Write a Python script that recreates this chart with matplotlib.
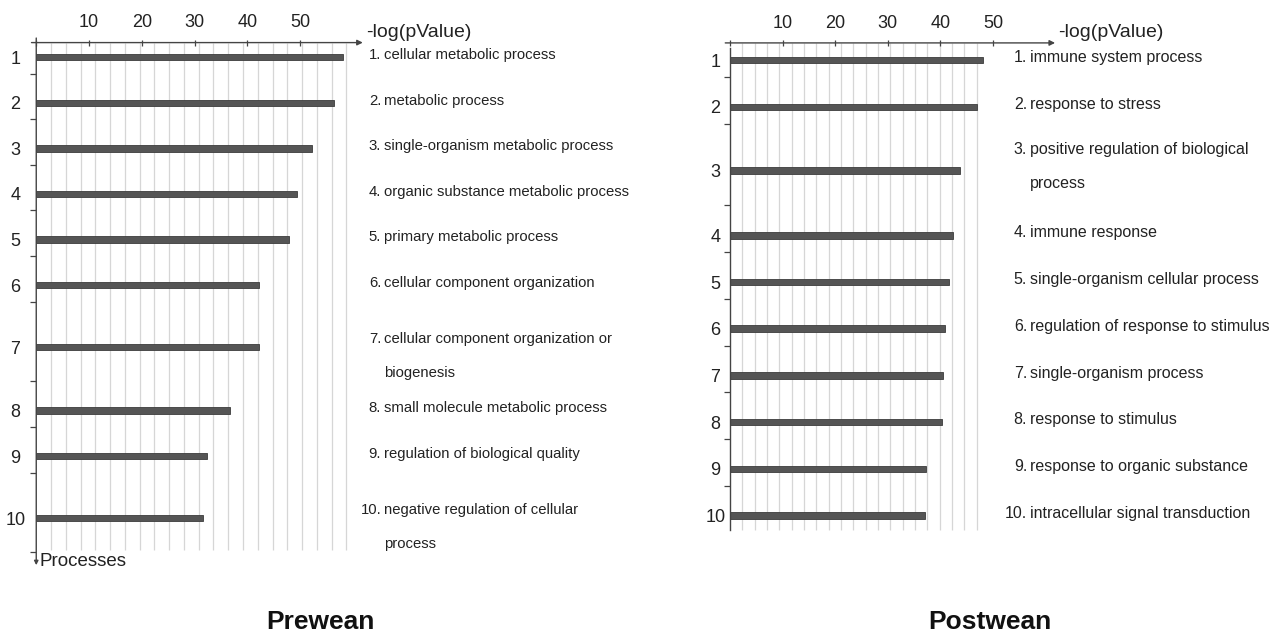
import numpy as np
import matplotlib
matplotlib.use('Agg')
import matplotlib.pyplot as plt

plt.rcParams['font.family'] = ['Liberation Sans', 'DejaVu Sans']

# GO terms and -log(pValue) for each weaning stage
pre_terms = [
    'cellular metabolic process',
    'metabolic process',
    'single-organism metabolic process',
    'organic substance metabolic process',
    'primary metabolic process',
    'cellular component organization',
    'cellular component organization or\nbiogenesis',
    'small molecule metabolic process',
    'regulation of biological quality',
    'negative regulation of cellular\nprocess',
]
pre_values = [58.1, 56.4, 52.2, 49.5, 48.0, 42.3, 42.3, 36.8, 32.3, 31.7]

post_terms = [
    'immune system process',
    'response to stress',
    'positive regulation of biological\nprocess',
    'immune response',
    'single-organism cellular process',
    'regulation of response to stimulus',
    'single-organism process',
    'response to stimulus',
    'response to organic substance',
    'intracellular signal transduction',
]
post_values = [48.1, 47.0, 43.7, 42.4, 41.6, 40.9, 40.5, 40.3, 37.3, 37.1]

tick_vals = [0, 10, 20, 30, 40, 50]
tick_text = ['', '10', '20', '30', '40', '50']

W, H = 1277, 636
TXT = '#222222'


def rows(terms):
    # one row per term, two-line terms get a taller row
    centers, bottoms = [], []
    top = 0.0
    for t in terms:
        wrapped = '\n' in t
        centers.append(top + (1.0 if wrapped else 0.64))
        top += 1.75 if wrapped else 1.0
        bottoms.append(top)
    return np.array(centers), np.array(bottoms), top


def panel(fig, terms, values, x0, ytop, px_unit, px_slot, xmax,
          axis_y, grid_step, n_grid, ypad, num_x, wrap_shift, lbl_size,
          last_tick, arrow_down, title, title_x):
    centers, bottoms, total = rows(terms)
    ybot = ytop + total * px_slot
    ax = fig.add_axes([x0 / W, 1 - ybot / H, xmax * px_unit / W,
                       (ybot - ytop) / H])
    ax.set_xlim(0, xmax)
    ax.set_ylim(total, 0)
    for s in ax.spines.values():
        s.set_visible(False)
    ax.patch.set_alpha(0)

    # vertical guide lines
    grid_x = np.arange(1, n_grid + 1) * grid_step
    ax.vlines(grid_x, axis_y, total - 0.05, color='#d6d6d6', lw=0.9, zorder=0)

    ax.barh(centers, values, height=0.14, color='#555555',
            edgecolor='#3c3c3c', lw=0.6, zorder=2)

    # x axis on top with arrow
    ax.spines['top'].set_position(('data', axis_y))
    ax.xaxis.set_ticks_position('top')
    ax.set_xticks(tick_vals, labels=tick_text)
    ax.tick_params(axis='x', direction='inout', length=4, width=0.9,
                   color='#444444', pad=6, labelsize=13, labelcolor=TXT)
    ax.annotate('', xy=(xmax, axis_y), xytext=(-0.9, axis_y),
                arrowprops=dict(arrowstyle='-|>', color='#444444', lw=1,
                                mutation_scale=8, shrinkA=0, shrinkB=0),
                annotation_clip=False)

    # y axis
    ax.set_yticks(centers, labels=[str(i + 1) for i in range(len(terms))])
    ax.set_yticks(bottoms if last_tick else bottoms[:-1], minor=True)
    ax.tick_params(axis='y', which='major', length=0, pad=ypad,
                   labelsize=13, labelcolor=TXT)
    ax.tick_params(axis='y', which='minor', direction='out', length=4,
                   width=0.9, color='#444444')
    for lbl in ax.get_yticklabels():
        lbl.set_horizontalalignment('center')
    if arrow_down:
        ax.annotate('', xy=(0, total + 0.28), xytext=(0, axis_y - 0.1),
                    arrowprops=dict(arrowstyle='-|>', color='#444444', lw=1,
                                    mutation_scale=6, shrinkA=0, shrinkB=0),
                    annotation_clip=False)
        ax.text(0.7, total + 0.2, 'Processes', ha='left', va='center',
                fontsize=13.5, color=TXT, clip_on=False)
    else:
        ax.plot([0, 0], [axis_y + 0.1, total - 0.05], color='#444444',
                lw=1, clip_on=False)

    ax.text(xmax + 0.6, axis_y - 0.22, '-log(pValue)', ha='left',
            va='center', fontsize=14, color=TXT, clip_on=False)

    # numbered term labels to the right of the plot
    step = 3.0 / px_unit
    for i, (t, c) in enumerate(zip(terms, centers)):
        lines = t.split('\n')
        y0 = c - 0.05
        if len(lines) > 1:
            y0 = c + wrap_shift
        ax.text(num_x, y0, f'{i + 1}.', ha='right', va='center',
                fontsize=lbl_size, color=TXT, clip_on=False)
        for j, line in enumerate(lines):
            ax.text(num_x + step, y0 + j * 0.74, line, ha='left',
                    va='center', fontsize=lbl_size, color=TXT,
                    clip_on=False)

    fig.text(title_x / W, 1 - 622 / H, title, ha='center', va='center',
             fontsize=19, fontweight='bold', color='#111111')
    return ax


fig = plt.figure(figsize=(W / 100, H / 100), dpi=100)

panel(fig, pre_terms, pre_values, x0=36.25, ytop=28, px_unit=5.275,
      px_slot=45.6, xmax=61.9, axis_y=0.32, grid_step=2.8, n_grid=21,
      ypad=15, num_x=65.4, wrap_shift=-0.17, lbl_size=10.7, last_tick=True,
      arrow_down=True, title='Prewean', title_x=320)

panel(fig, post_terms, post_values, x0=730, ytop=30.3, px_unit=5.26,
      px_slot=46.7, xmax=61.8, axis_y=0.27, grid_step=2.345, n_grid=20,
      ypad=10.5, num_x=56.5, wrap_shift=-0.45, lbl_size=11.5,
      last_tick=False, arrow_down=False, title='Postwean', title_x=990)

fig.savefig('out.png', dpi=100, facecolor='white')
